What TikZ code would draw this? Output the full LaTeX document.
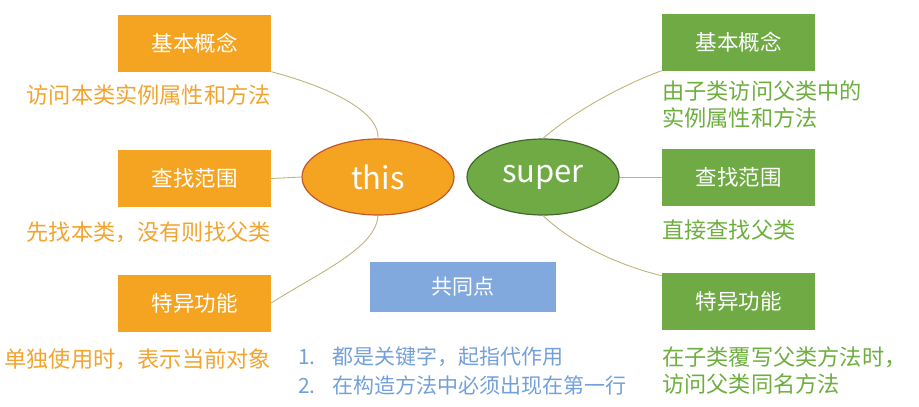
\documentclass[tikz,border=0pt]{standalone}
\usepackage{fontspec}
\setmainfont{Noto Sans CJK SC}
\usetikzlibrary{shapes.geometric}
\definecolor{orfill}{HTML}{F5A422}
\definecolor{ortext}{HTML}{F2A42E}
\definecolor{orline}{HTML}{C4582A}
\definecolor{grfill}{HTML}{6FAA45}
\definecolor{grtext}{HTML}{6DAE3E}
\definecolor{grline}{HTML}{3F6A2C}
\definecolor{blfill}{HTML}{82A9DD}
\definecolor{bltext}{HTML}{72A0DA}
\definecolor{conn}{HTML}{BFB47E}
\tikzset{
  obox/.style={fill=orfill, draw=none, minimum width=153pt, minimum height=57pt, inner sep=0pt, text=white, font=\fontsize{21.5}{24}\selectfont},
  gbox/.style={fill=grfill, draw=none, minimum width=153pt, minimum height=57pt, inner sep=0pt, text=white, font=\fontsize{21.5}{24}\selectfont},
  bbox/.style={fill=blfill, draw=none, minimum width=186pt, minimum height=50pt, inner sep=0pt, text=white, font=\fontsize{21}{24}\selectfont},
  otxt/.style={text=ortext, inner sep=0pt, font=\fontsize{22.2}{27}\selectfont, align=right},
  gtxt/.style={text=grtext, inner sep=0pt, font=\fontsize{22.2}{27}\selectfont, align=left},
  btxt/.style={text=bltext, inner sep=0pt, font=\fontsize{21}{28.5}\selectfont, align=left},
  kw/.style={ellipse, minimum width=152pt, minimum height=76pt, inner sep=0pt, line width=1.2pt, text=white, font=\fontsize{31}{36}\selectfont},
  conn/.style={draw=conn, line width=0.9pt}
}
\begin{document}
\begin{tikzpicture}[x=1pt,y=-1pt]
\useasboundingbox (0,0) rectangle (919,407);
% this side
\node[kw, fill=orfill, draw=orline] (this) at (378,177) {this};
\node[obox] (o1) at (194.5,43) {基本概念};
\node[obox] (o2) at (194.5,178.5) {查找范围};
\node[obox] (o3) at (194.5,303) {特异功能};
\node[otxt, anchor=east] (ot1) at (271,95) {访问本类实例属性和方法};
\node[otxt, anchor=east] (ot2) at (271,232) {先找本类，没有则找父类};
\node[otxt, anchor=east] (ot3) at (271,359) {单独使用时，表示当前对象};
% super side
\node[kw, fill=grfill, draw=grline] (super) at (543,177) {super};
\node[gbox] (g1) at (738.5,42) {基本概念};
\node[gbox] (g2) at (738.5,177) {查找范围};
\node[gbox] (g3) at (738.5,301.5) {特异功能};
\node[gtxt, anchor=north west] (gt1) at (662,80.5) {由子类访问父类中的\\实例属性和方法};
\node[gtxt, anchor=west] (gt2) at (662,230) {直接查找父类};
\node[gtxt, anchor=north west] (gt3) at (662,346.5) {在子类覆写父类方法时，\\访问父类同名方法};
% common
\node[bbox] (b) at (463,287) {共同点};
\node[btxt, anchor=north west] (bt) at (298,347) {1.\hspace{0.8em}都是关键字，起指代作用\\2.\hspace{0.8em}在构造方法中必须出现在第一行};
% connectors
\draw[conn] (o1.south east) .. controls (340,90) and (380,115) .. (this.north);
\draw[conn] (o2.east) -- (this.west);
\draw[conn] (this.south) .. controls (376,248) and (320,272) .. (o3.east);
\draw[conn] (super.north) .. controls (578,108) and (630,82) .. (g1.south west);
\draw[conn] (super.east) -- (g2.west);
\draw[conn] (super.south) .. controls (575,246) and (622,266) .. ([yshift=-3pt]g3.north west);
\end{tikzpicture}
\end{document}
